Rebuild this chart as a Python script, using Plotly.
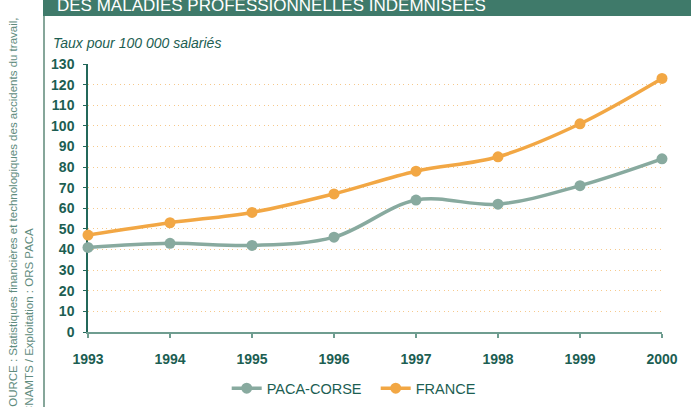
import plotly.graph_objects as go

years = [1993, 1994, 1995, 1996, 1997, 1998, 1999, 2000]
paca_corse = [41, 43, 42, 46, 64, 62, 71, 84]
france = [47, 53, 58, 67, 78, 85, 101, 123]
y_ticks = list(range(0, 131, 10))

TEAL = "#1C5E52"
ORANGE = "#F2A744"
SAGE = "#88AA9F"
BAND = "#3F7A6A"
SANS = "Liberation Sans, Arial, sans-serif"

fig = go.Figure()
fig.add_trace(go.Scatter(
    x=years, y=paca_corse, name="PACA-CORSE", mode="lines+markers",
    line=dict(color=SAGE, width=3.5, shape="spline", smoothing=1),
    marker=dict(color=SAGE, size=11), cliponaxis=False))
fig.add_trace(go.Scatter(
    x=years, y=france, name="FRANCE", mode="lines+markers",
    line=dict(color=ORANGE, width=3.5, shape="spline", smoothing=1),
    marker=dict(color=ORANGE, size=11), cliponaxis=False))

W, H = 691, 407
L, R, T, B = 88.3, 662.3, 64, 331.8


def px(x):
    return (x - L) / (R - L)


def py(y):
    return (B - y) / (B - T)


fig.update_layout(
    width=W, height=H,
    margin=dict(l=88, r=29, t=64, b=75, pad=0, autoexpand=False),
    plot_bgcolor="white", paper_bgcolor="white",
    showlegend=True,
    legend=dict(orientation="h", x=px(227), xanchor="left", y=py(388), yanchor="middle",
                font=dict(family=SANS, size=14.5, color=TEAL), bgcolor="rgba(0,0,0,0)",
                itemwidth=30, entrywidth=104, entrywidthmode="pixels"),
    xaxis=dict(range=[1993, 2000], tickvals=years, ticktext=[str(y) for y in years],
               showgrid=False, zeroline=False, showline=True, linecolor="#6F9D90", linewidth=2,
               ticks="outside", ticklen=4, tickwidth=1.5, tickcolor="#6F9D90",
               tickfont=dict(family=SANS, size=14, color=TEAL, weight="bold"),
               ticklabelstandoff=9, layer="below traces", fixedrange=True, automargin=False),
    yaxis=dict(range=[0, 130], tickvals=y_ticks, showgrid=True, gridcolor="#F6C98C",
               griddash="1px,3.5px", gridwidth=1.3, zeroline=False, showline=True,
               linecolor="#23685A", linewidth=1.5, ticks="outside", ticklen=3, tickwidth=1.2,
               tickcolor="#23685A",
               tickfont=dict(family=SANS, size=14, color=TEAL, weight="bold"),
               ticklabelstandoff=6, layer="below traces", fixedrange=True, automargin=False),
    shapes=[
        dict(type="rect", xref="paper", yref="paper", x0=px(43.3), x1=px(700), y0=py(16), y1=py(-10),
             fillcolor=BAND, line=dict(width=0), layer="above"),
        dict(type="line", xref="paper", yref="paper", x0=px(44.3), x1=px(44.3), y0=py(16), y1=py(420),
             line=dict(color="#86A69A", width=2)),
    ],
    annotations=[
        dict(text="DES MALADIES PROFESSIONNELLES INDEMNISEES", xref="paper", yref="paper",
             x=px(55), y=py(17), xanchor="left", yanchor="bottom", showarrow=False,
             font=dict(family=SANS, size=17, color="white")),
        dict(text="<i>Taux pour 100 000 salariés</i>", xref="paper", yref="paper",
             x=px(51), y=py(42.7), xanchor="left", yanchor="middle", showarrow=False,
             font=dict(family=SANS, size=14, color=TEAL)),
        dict(text="SOURCE : Statistiques financières et technologiques des accidents du travail,",
             xref="paper", yref="paper", x=px(13), y=py(416), xanchor="center", yanchor="bottom",
             textangle=-90, showarrow=False,
             font=dict(family=SANS, size=11.5, color="#5F8C7E")),
        dict(text="CNAMTS / Exploitation : ORS PACA",
             xref="paper", yref="paper", x=px(30), y=py(416), xanchor="center", yanchor="bottom",
             textangle=-90, showarrow=False,
             font=dict(family=SANS, size=11.5, color="#5F8C7E")),
    ],
)

fig.write_html("out.html", config={"displayModeBar": False},
               post_script="document.body.style.margin='0px';document.body.style.overflow='hidden';")
